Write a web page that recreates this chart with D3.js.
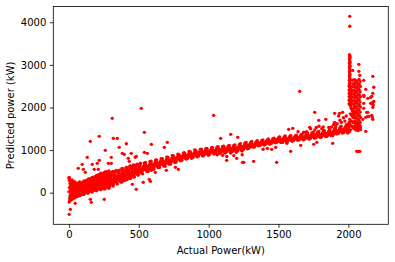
<!DOCTYPE html>
<html><head><meta charset="utf-8">
<script src="https://cdnjs.cloudflare.com/ajax/libs/d3/7.8.5/d3.min.js"></script>
<style>html,body{margin:0;padding:0;background:#fff}svg{display:block}text{font-family:"DejaVu Sans",sans-serif;fill:#000}</style>
</head><body><script>
const xTicks=[0,500,1000,1500,2000];
const yTicks=[0,1000,2000,3000,4000];
const xTitle="Actual Power(kW)";
const yTitle="Predicted power (kW)";
const pointColor="#ff0000";

const bandActual=[
0,2,4,6,8,10,3,12,5,14,1,7,15,9,11,
20,24,28,22,26,30,25,21,29,23,
35,40,45,38,43,36,42,46,39,44,
50,55,60,53,58,52,57,61,54,59,
65,70,75,68,73,66,71,76,69,74,
80,85,90,83,88,81,86,91,84,89,
95,100,105,98,103,96,101,106,99,104,
110,115,120,113,118,111,116,121,114,119,
125,130,135,128,133,126,131,136,129,134,
140,145,150,143,148,141,146,151,144,149,
155,160,165,158,163,156,161,166,159,164,
170,175,180,173,178,171,176,181,174,179,
185,190,195,188,193,186,191,196,189,194,
200,205,210,203,208,201,206,211,204,209,
215,220,225,218,223,216,221,226,219,224,
230,235,240,233,238,231,236,241,234,239,
245,250,255,248,253,246,251,256,249,254,
260,265,270,263,268,261,266,271,264,269,
275,280,285,278,283,276,281,286,279,284,
290,300,310,295,305,292,302,312,297,307,
315,325,335,320,330,317,327,337,322,332,
340,350,360,345,355,342,352,362,347,357,
365,375,385,370,380,367,377,387,372,382,
390,400,410,395,405,392,402,412,397,407,
415,425,435,420,430,417,427,437,422,432,
440,450,460,445,455,442,452,462,447,457,
465,475,485,470,480,467,477,487,472,482,
490,500,510,495,505,492,502,512,497,507,
515,530,545,522,538,518,534,548,526,542,
555,570,585,562,578,558,574,588,566,582,
595,610,625,602,618,598,614,628,606,622,
635,650,665,642,658,638,654,668,646,662,
675,690,705,682,698,678,694,708,686,702,
715,730,745,722,738,718,734,748,726,742,
755,770,785,762,778,758,774,788,766,782,
795,810,825,802,818,798,814,828,806,822,
835,850,865,842,858,838,854,868,846,862,
875,890,905,882,898,878,894,908,886,902,
915,930,945,922,938,918,934,948,926,942,
955,970,985,962,978,958,974,988,966,982,
995,1010,1025,1002,1018,998,1014,1028,1006,1022,
1035,1050,1065,1042,1058,1038,1054,1068,1046,1062,
1075,1090,1105,1082,1098,1078,1094,1108,1086,1102,
1115,1130,1145,1122,1138,1118,1134,1148,1126,1142,
1155,1170,1185,1162,1178,1158,1174,1188,1166,1182,
1195,1210,1225,1202,1218,1198,1214,1228,1206,1222,
1235,1250,1265,1242,1258,1238,1254,1268,1246,1262,
1275,1290,1305,1282,1298,1278,1294,1308,1286,1302,
1315,1330,1345,1322,1338,1318,1334,1348,1326,1342,
1355,1370,1385,1362,1378,1358,1374,1388,1366,1382,
1395,1410,1425,1402,1418,1398,1414,1428,1406,1422,
1435,1450,1465,1442,1458,1438,1454,1468,1446,1462,
1475,1490,1505,1482,1498,1478,1494,1508,1486,1502,
1515,1530,1545,1522,1538,1518,1534,1548,1526,1542,
1555,1570,1585,1562,1578,1558,1574,1588,1566,1582,
1595,1610,1625,1602,1618,1598,1614,1628,1606,1622,
1635,1650,1665,1642,1658,1638,1654,1668,1646,1662,
1675,1690,1705,1682,1698,1678,1694,1708,1686,1702,
1715,1730,1745,1722,1738,1718,1734,1748,1726,1742,
1755,1770,1785,1762,1778,1758,1774,1788,1766,1782,
1795,1810,1825,1802,1818,1798,1814,1828,1806,1822,
1835,1850,1865,1842,1858,1838,1854,1868,1846,1862,
1875,1890,1905,1882,1898,1878,1894,1908,1886,1902,
1915,1930,1945,1922,1938,1918,1934,1948,1926,1942,
1955,1970,1985,1962,1978,1958,1974,1988,1966,1982,
1995,2000,2005,1998,2003,1996,2002,2006,1999,2004
];
const bandPredicted=[
20,-220,120,-150,210,-60,290,60,-200,160,340,-110,-30,250,90,
-160,70,190,-70,130,-110,250,10,-20,300,
-90,60,170,-40,210,-130,110,20,260,140,
-70,30,200,110,-20,160,60,-90,230,140,
-50,90,210,20,160,-80,120,250,40,190,
-30,100,190,40,150,-60,130,230,70,200,
-10,110,240,60,180,-40,150,270,30,90,
10,130,260,70,200,-20,170,280,50,100,
30,150,280,90,220,10,190,310,60,120,
40,170,300,110,240,20,210,330,80,140,
60,190,330,130,260,30,230,350,100,160,
80,210,340,150,280,50,250,370,120,180,
90,230,370,170,300,60,270,400,140,200,
110,250,390,190,320,70,290,420,160,220,
130,270,400,200,340,90,310,440,170,240,
110,280,410,210,350,80,320,450,180,250,
120,290,430,220,360,100,330,480,190,260,
150,310,450,240,380,110,350,490,210,280,
170,330,470,260,400,140,370,510,230,300,
190,340,480,270,410,150,380,490,240,310,
230,350,490,290,420,200,390,520,260,320,
260,380,510,320,440,230,410,530,290,350,
290,400,530,350,470,260,440,560,320,380,
310,430,560,380,500,280,470,590,350,410,
340,470,590,410,530,310,500,620,380,440,
370,500,620,440,560,340,530,650,410,470,
420,530,650,480,590,380,560,670,450,510,
450,560,670,510,620,420,590,690,480,540,
480,590,690,540,640,460,610,710,520,570,
520,620,720,570,670,500,640,740,550,600,
570,660,760,610,710,550,680,770,590,640,
610,700,790,650,750,590,720,800,630,680,
650,730,820,690,780,630,750,830,670,710,
690,770,850,730,810,670,790,860,710,750,
730,810,880,770,840,710,830,890,750,790,
770,840,920,810,880,750,860,930,790,830,
800,870,950,840,910,790,890,960,820,860,
830,900,980,870,940,810,920,990,850,890,
860,930,1010,900,970,840,950,1020,880,920,
880,950,1030,920,990,860,970,1040,900,940,
900,970,1050,940,1010,880,990,1060,920,960,
930,990,1070,960,1030,910,1010,1080,950,980,
940,1000,1080,970,1040,920,1020,1090,960,990,
950,1020,1100,980,1060,930,1040,1110,970,1000,
950,1030,1110,990,1070,930,1050,1120,970,1010,
970,1050,1130,1010,1090,950,1070,1150,990,1030,
1000,1080,1160,1040,1120,980,1100,1180,1020,1060,
1050,1110,1180,1080,1140,1030,1130,1200,1070,1090,
1080,1140,1200,1110,1170,1070,1150,1220,1100,1130,
1110,1170,1220,1140,1190,1100,1180,1240,1130,1150,
1130,1190,1250,1160,1220,1120,1200,1260,1150,1180,
1150,1210,1270,1180,1240,1140,1220,1280,1170,1200,
1180,1230,1300,1210,1270,1170,1250,1310,1200,1220,
1190,1250,1320,1220,1280,1180,1260,1330,1210,1240,
1210,1270,1330,1240,1300,1200,1280,1340,1230,1260,
1220,1280,1340,1250,1310,1210,1290,1350,1240,1270,
1240,1300,1360,1270,1330,1230,1310,1370,1260,1290,
1250,1310,1380,1280,1350,1240,1330,1400,1270,1300,
1270,1330,1400,1300,1370,1260,1350,1420,1290,1320,
1290,1350,1420,1320,1390,1280,1370,1440,1310,1340,
1310,1370,1440,1340,1400,1300,1390,1460,1330,1360,
1330,1390,1460,1360,1420,1320,1410,1480,1350,1380,
1350,1420,1510,1390,1460,1340,1440,1530,1380,1410,
1390,1450,1540,1420,1500,1380,1470,1560,1410,1440,
1410,1470,1570,1440,1530,1400,1500,1600,1430,1460,
1400,1500,1600,1450,1550,1420,1530,1650,1470,1570
];
const fillActual=[
20,27,33,40,46,50,57,63,70,76,80,87,93,100,106,
110,117,123,130,136,140,147,153,160,166,170,177,183,190,196,
200,207,213,220,226,230,237,243,250,256,260,267,273,280,286,
290,297,303,310,316,320,327,333,340,346,350,357,363,370,376,
380,387,393,400,406,410,417,423,430,436,440,447,453,460,466,
470,477,483,490,496,
500,507,514,521,528,535,540,547,554,561,568,575,
580,587,594,601,608,615,620,627,634,641,648,655,
660,667,674,681,688,695,700,707,714,721,728,735,
740,747,754,761,768,775,780,787,794,801,808,815,
820,827,834,841,848,855,860,867,874,881,888,895,
900,907,914,921,928,935,940,947,954,961,968,975,
980,987,994,1001,1008,1015,1020,1027,1034,1041,1048,1055,
1060,1067,1074,1081,1088,1095,1100,1107,1114,1121,1128,1135,
1140,1147,1154,1161,1168,1175,1180,1187,1194,1201,1208,1215,
1220,1227,1234,1241,1248,1255,1260,1267,1274,1281,1288,1295,
1300,1307,1314,1321,1328,1335,1340,1347,1354,1361,1368,1375,
1380,1387,1394,1401,1408,1415,1420,1427,1434,1441,1448,1455,
1460,1467,1474,1481,1488,1495,1500,1507,1514,1521,1528,1535,
1540,1547,1554,1561,1568,1575,1580,1587,1594,1601,1608,1615,
1620,1627,1634,1641,1648,1655,1660,1667,1674,1681,1688,1695,
1700,1707,1714,1721,1728,1735,1740,1747,1754,1761,1768,1775,
1780,1787,1794,1801,1808,1815,1820,1827,1834,1841,1848,1855,
1860,1867,1874,1881,1888,1895,1900,1907,1914,1921,1928,1935,
1940,1947,1954,1961,1968,1975,1980,1987,1994,2001,2008,2015
];
const fillPredicted=[
210,160,55,-60,-105,210,160,75,-20,-65,240,190,100,0,-45,
270,220,130,30,-15,320,270,170,60,15,360,310,205,90,45,
400,350,240,120,75,460,410,275,130,85,480,430,295,150,105,
470,420,315,200,155,490,440,350,250,205,510,460,380,290,245,
570,520,435,340,295,590,540,465,380,335,630,580,500,410,365,
640,590,530,460,415,
665,630,565,475,442,540,700,665,612,535,502,587,
735,700,655,585,552,630,765,730,690,625,592,665,
795,760,720,655,622,695,835,800,765,705,672,740,
875,840,810,755,722,785,905,870,845,795,762,820,
935,900,880,835,802,855,965,930,910,865,832,885,
1005,970,945,895,862,920,1015,980,962,920,887,937,
1035,1000,982,940,907,957,1050,1015,1000,960,927,975,
1065,1030,1017,980,947,992,1085,1050,1035,995,962,1010,
1090,1055,1040,1000,967,1015,1110,1075,1057,1015,982,1032,
1135,1100,1085,1045,1012,1060,1160,1125,1112,1075,1042,1087,
1175,1140,1135,1105,1072,1110,1190,1155,1162,1145,1112,1137,
1220,1185,1190,1170,1137,1165,1235,1200,1205,1185,1152,1180,
1265,1230,1235,1215,1182,1210,1285,1250,1255,1235,1202,1230,
1305,1270,1270,1245,1212,1245,1315,1280,1282,1260,1227,1257,
1330,1295,1297,1275,1242,1272,1345,1310,1312,1290,1257,1287,
1375,1340,1335,1305,1272,1310,1400,1365,1357,1325,1292,1332,
1415,1380,1372,1340,1307,1347,1430,1395,1387,1355,1322,1362,
1445,1410,1405,1375,1342,1380,1495,1460,1455,1425,1392,1430,
1520,1485,1477,1445,1412,1452,1545,1510,1500,1465,1432,1475
];
const spikeActual=[
2008,2010,2012,2008,2010,2012,2008,2010,2012,2008,2010,2012,
2008,2010,2012,2008,2010,2012,2008,2010,2012,2008,2010,2012,
2006,2012,2018,2024,2006,2012,2018,2024,2006,2012,2018,2024,
2006,2012,2018,2024,2006,2012,2018,2024,2006,2012,2018,2024,
2020,2028,2036,2015,2025,2035,2010,2022,2034,2012,2024,2036,
2030,2034,2040,2030,2036,2040,2032,2038,2042,2030,2036,2040,
2045,2052,2060,2068,2076,2084,2046,2054,2062,2070,2078,2086,
2045,2052,2060,2068,2076,2084,2046,2054,2062,2070,2078,2086,
2045,2052,2060,2068,2076,2084,2046,2054,2062,2070,2078,2086,
2045,2052,2060,2068,2076,2084,2046,2054,2062,2070,2078,2086,
2045,2052,2060,2068,2076,2084,2046,2054,2062,2070,2078,2086,
2045,2052,2060,2068,2076,2084,2046,2054,2062,2070,2078,2086
];
const spikePredicted=[
3240,3190,3210,3140,3090,3160,3040,2990,3060,2940,2890,2960,
2840,2790,2860,2740,2690,2760,2640,2590,2660,2540,2490,2560,
2500,2470,2440,2490,2410,2380,2350,2400,2330,2300,2270,2320,
2250,2220,2190,2240,2170,2140,2110,2160,2090,2060,2030,2080,
1980,1940,1900,1850,1810,1770,1720,1680,1640,1600,1560,1520,
2640,2560,2480,2400,2320,2240,2160,2080,2000,1920,1840,1760,
2650,2590,2620,2560,2660,2610,2520,2470,2500,2440,2540,2490,
2400,2350,2380,2320,2420,2370,2280,2230,2260,2200,2300,2250,
2160,2110,2140,2080,2180,2130,2040,1990,2020,1960,2060,2010,
1920,1870,1900,1840,1940,1890,1800,1750,1780,1720,1820,1770,
1680,1630,1660,1600,1700,1650,1560,1510,1540,1480,1580,1530,
1640,1590,1610,1550,1620,1570,1500,1470,1490,1460,1510,1480
];
const outlierActual=[
2,10,2,45,153,160,253,282,482,532,575,583,518,310,540,217,153,318,346,411,590,260,131,303,382,396,360,446,482,540,561,683,704,217,203,167,95,67,103,117,181,210,282,303,425,432,475,590,618,697,762,783,454,
1036,1158,1086,1208,1652,1759,1788,1838,1902,1723,1602,1573,1888,1487,1322,1243,1251,1129,1201,1587,1451,1480,1659,1752,1774,2060,2070,2082,2125,2010,2010,
2031,2075,2075,2082,2110,2175,2182,2125,2175,2110,2112,2139,2160,2167,2175,2178,2175,2172,2160,2182,2110,2132,2139,2110,2125,2139,2167,2175,2172,2104,2146,
1937,1959,1930,1902,1940,1965,1895,1920,1950,1975,1985,1910,1880,1860,1820,1790,1770,1730,1700,1810,1760,1680,1640,1560,1530,1420,1390,1100,1060,1130,1180,1240
];
const outlierPredicted=[
-508,-391,360,-250,-156,-227,-156,125,78,243,313,266,1980,1745,1416,1322,1205,1275,1275,1150,1135,994,829,829,923,900,1064,923,853,947,923,1064,1181,759,688,665,665,571,548,477,548,548,688,688,806,735,829,524,477,524,595,548,196,
1815,1369,1275,1299,2379,1886,1698,1721,1862,1534,1510,1487,1158,712,735,712,712,759,806,970,1017,1064,1111,1135,1181,970,970,970,1440,4139,3905,
2870,3012,2848,2754,2637,2731,2473,2426,2332,2285,2262,2214,2238,2261,2120,2060,2003,2090,2097,2140,2097,1886,1886,1980,1768,1790,1815,1721,1770,1721,1790,
1862,1886,1800,1651,1700,1760,1600,1620,1650,1680,1800,1570,1540,1530,1540,1560,1530,1500,1430,1500,1470,1420,1430,1160,1180,1040,1020,880,890,850,870,890
];

const W=395,H=262,L=53.3,R=388.3,T=6.5,B=224.3;
const x=d3.scaleLinear().domain([-112,2286]).range([L,R]);
const y=d3.scaleLinear().domain([-742,4370]).range([B,T]);
const svg=d3.select("body").append("svg").attr("width",W).attr("height",H);
const g=svg.append("g");
const actual=[...bandActual,...fillActual,...spikeActual,...outlierActual];
const predicted=[...bandPredicted,...fillPredicted,...spikePredicted,...outlierPredicted];
g.selectAll("circle").data(actual).join("circle")
 .attr("cx",d=>x(d)).attr("cy",(d,i)=>y(predicted[i])).attr("r",1.7).attr("fill",pointColor);
const ax=svg.append("g").attr("transform",`translate(0,${B})`).call(d3.axisBottom(x).tickValues(xTicks).tickFormat(d3.format("d")).tickSize(3.5).tickPadding(3.5));
const ay=svg.append("g").attr("transform",`translate(${L},0)`).call(d3.axisLeft(y).tickValues(yTicks).tickFormat(d3.format("d")).tickSize(3.5).tickPadding(3.5));
[ax,ay].forEach(a=>{a.selectAll(".domain").remove();a.selectAll("line").attr("stroke","#000").attr("stroke-width",0.8);a.selectAll("text").attr("font-size",10).attr("font-family",'"DejaVu Sans"').attr("fill","#000");});
svg.append("rect").attr("x",L).attr("y",T).attr("width",R-L).attr("height",B-T).attr("fill","none").attr("stroke","#000").attr("stroke-width",0.8);
svg.append("text").attr("x",(L+R)/2).attr("y",254).attr("text-anchor","middle").attr("font-size",10).text(xTitle);
svg.append("text").attr("transform",`translate(14,${(T+B)/2}) rotate(-90)`).attr("text-anchor","middle").attr("font-size",10).text(yTitle);
</script></body></html>
